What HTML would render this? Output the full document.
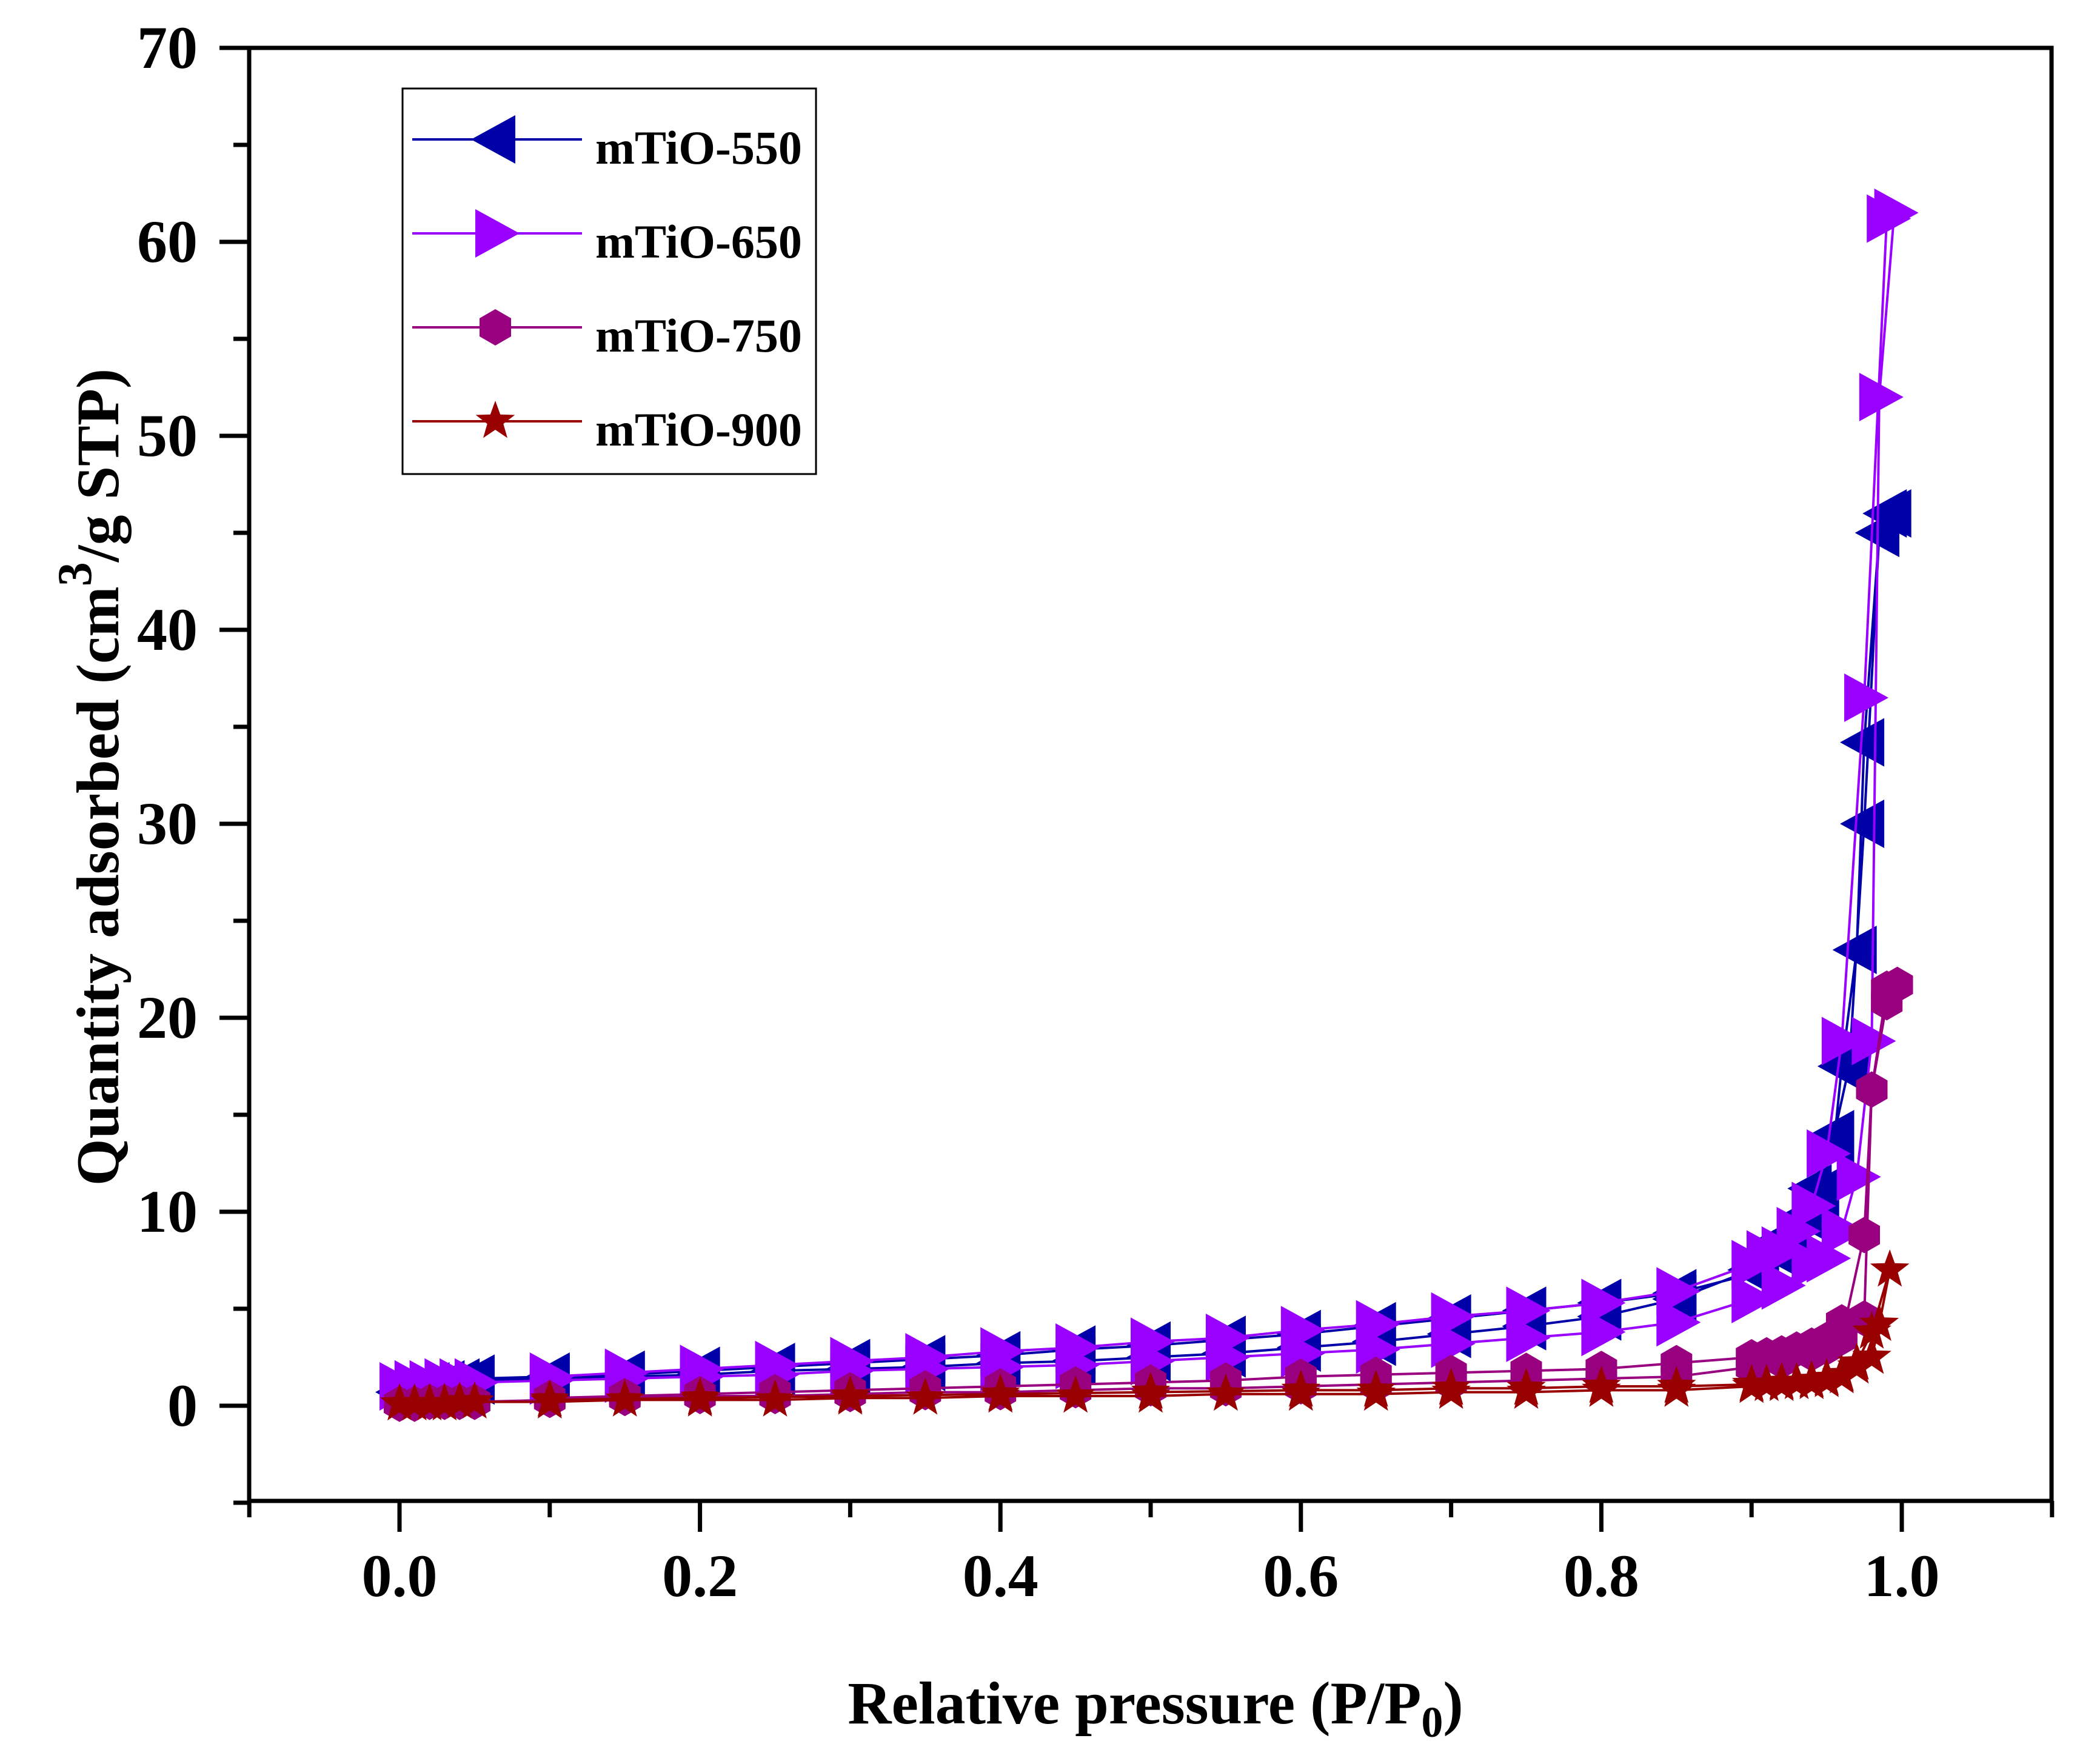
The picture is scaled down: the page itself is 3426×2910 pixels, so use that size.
<!DOCTYPE html>
<html><head><meta charset="utf-8"><style>
html,body{margin:0;padding:0;background:#fff;}
svg{display:block;}
text{font-family:"Liberation Serif",serif;font-weight:bold;fill:#000;}
</style></head><body>
<svg id="chart" width="3426" height="2910" viewBox="0 0 3426 2910" xmlns="http://www.w3.org/2000/svg">
<g id="axes"></g>
<g id="series"></g>
<g id="legend"></g>
<text x="1906" y="2843" font-size="100" text-anchor="middle">Relative pressure (P/P<tspan font-size="72" dy="22">0</tspan><tspan dy="-22">)</tspan></text>
<text transform="translate(195,1282) rotate(-90)" font-size="100" text-anchor="middle">Quantity adsorbed (cm<tspan font-size="80" dy="-45">3</tspan><tspan dy="45">/g STP)</tspan></text>
</svg>
<script>
const xTicks = [-0.1,0,0.1,0.2,0.3,0.4,0.5,0.6,0.7,0.8,0.9,1.0,1.1];
const xTickLabels = ["0.0","0.2","0.4","0.6","0.8","1.0"];
const xLabelVals = [0,0.2,0.4,0.6,0.8,1.0];
const yTicks = [0,10,20,30,40,50,60,70];
const yTickLabels = ["0","10","20","30","40","50","60","70"];

const s550x = [0.0,0.01,0.02,0.03,0.04,0.05,0.1,0.15,0.2,0.25,0.3,0.35,0.4,0.45,0.5,0.55,0.6,0.65,0.7,0.75,0.8,0.85,0.9,0.92,0.94,0.955,0.965,0.975,0.985,0.99,0.993,0.985,0.975,0.97,0.96,0.955,0.945,0.935,0.925,0.915,0.905,0.85,0.8,0.75,0.7,0.65,0.6,0.55,0.5,0.45,0.4,0.35,0.3,0.25,0.2,0.15,0.1,0.05];
const s550y = [0.7,0.9,1.0,1.1,1.2,1.3,1.4,1.5,1.6,1.8,1.9,2.0,2.2,2.3,2.5,2.7,3.0,3.3,3.7,4.1,4.6,5.5,7.0,8.6,11.2,14.0,17.5,30.0,45.0,46.0,46.0,45.0,34.2,23.5,17.5,13.6,11.0,9.8,8.8,8.0,6.9,5.8,5.3,4.9,4.5,4.1,3.7,3.4,3.1,2.9,2.6,2.4,2.2,2.0,1.8,1.6,1.5,1.4];
const s650x = [0.0,0.01,0.02,0.03,0.04,0.05,0.1,0.15,0.2,0.25,0.3,0.35,0.4,0.45,0.5,0.55,0.6,0.65,0.7,0.75,0.8,0.85,0.9,0.92,0.94,0.95,0.96,0.97,0.98,0.985,0.995,0.99,0.975,0.96,0.95,0.94,0.93,0.92,0.91,0.9,0.85,0.8,0.75,0.7,0.65,0.6,0.55,0.5,0.45,0.4,0.35,0.3,0.25,0.2,0.15,0.1];
const s650y = [1.0,1.1,1.1,1.2,1.2,1.2,1.3,1.4,1.5,1.6,1.8,1.9,2.0,2.1,2.3,2.5,2.7,2.9,3.2,3.5,3.8,4.3,5.5,6.2,7.3,7.6,9.0,11.8,18.8,52.0,61.5,61.2,36.5,18.8,13.0,10.3,9.0,8.0,7.8,7.3,5.9,5.3,4.9,4.6,4.2,3.9,3.5,3.3,3.0,2.8,2.5,2.3,2.1,1.9,1.7,1.5];
const s750x = [0.0,0.01,0.02,0.03,0.04,0.05,0.1,0.15,0.2,0.25,0.3,0.35,0.4,0.45,0.5,0.55,0.6,0.65,0.7,0.75,0.8,0.85,0.9,0.92,0.94,0.95,0.96,0.975,0.98,0.99,0.997,0.99,0.98,0.975,0.96,0.95,0.94,0.93,0.92,0.91,0.9,0.85,0.8,0.75,0.7,0.65,0.6,0.55,0.5,0.45,0.4,0.35,0.3,0.25,0.2,0.15,0.1];
const s750y = [0.1,0.1,0.2,0.2,0.2,0.2,0.3,0.4,0.5,0.5,0.6,0.7,0.7,0.8,0.9,0.9,1.0,1.1,1.2,1.3,1.4,1.5,2.0,2.3,2.7,3.0,3.5,8.8,16.3,20.8,21.7,21.5,16.3,4.5,4.3,3.4,3.1,2.9,2.7,2.6,2.5,2.2,1.9,1.8,1.7,1.6,1.5,1.3,1.2,1.1,1.0,0.9,0.8,0.7,0.6,0.5,0.4];
const s900x = [0.0,0.01,0.02,0.03,0.04,0.05,0.1,0.15,0.2,0.25,0.3,0.35,0.4,0.45,0.5,0.55,0.6,0.65,0.7,0.75,0.8,0.85,0.9,0.92,0.94,0.95,0.96,0.97,0.98,0.985,0.992,0.98,0.97,0.96,0.95,0.94,0.93,0.92,0.91,0.9,0.85,0.8,0.75,0.7,0.65,0.6,0.5,0.4,0.3,0.2,0.1];
const s900y = [0.1,0.1,0.1,0.1,0.2,0.2,0.2,0.3,0.3,0.3,0.4,0.4,0.5,0.5,0.5,0.6,0.6,0.6,0.7,0.7,0.8,0.8,1.0,1.1,1.2,1.3,1.5,2.0,2.5,4.2,7.0,3.8,2.2,1.6,1.4,1.3,1.2,1.2,1.1,1.1,1.0,1.0,0.9,0.9,0.8,0.8,0.7,0.6,0.5,0.4,0.3];

const seriesNames = ["mTiO-550","mTiO-650","mTiO-750","mTiO-900"];

const NS = "http://www.w3.org/2000/svg";
const X0=659, XS=2478, Y0=2319, YS=32;
function sx(v){return X0+XS*v;}
function sy(v){return Y0-YS*v;}
function mk(tag,attrs,parent){const e=document.createElementNS(NS,tag);for(const k in attrs)e.setAttribute(k,attrs[k]);parent.appendChild(e);return e;}

const axesG=document.getElementById('axes');
const FL=411,FR=3384,FT=79,FB=2476;
let frame=mk('rect',{x:FL,y:FT,width:FR-FL,height:FB-FT,fill:'none',stroke:'#000','stroke-width':7},axesG);


xTicks.forEach(v=>{
  const major = xLabelVals.some(m=>Math.abs(m-v)<1e-9);
  const t=mk('line',{x1:sx(v),x2:sx(v),y1:FB,y2:FB+(major?51:27),stroke:'#000','stroke-width':7},axesG);
  
  
});
xLabelVals.forEach((v,i)=>{
  const t=mk('text',{x:sx(v),y:2633,'font-size':100,'text-anchor':'middle'},axesG);
  t.textContent=xTickLabels[i];
  
  
});
for(let v=-5;v<=65;v+=10){
  const t=mk('line',{x1:FL-26,x2:FL,y1:sy(v),y2:sy(v),stroke:'#000','stroke-width':7},axesG);
  
  
}
yTicks.forEach((v,i)=>{
  const t=mk('line',{x1:FL-49,x2:FL,y1:sy(v),y2:sy(v),stroke:'#000','stroke-width':7},axesG);
  
  
  const l=mk('text',{x:326,y:sy(v)+33,'font-size':100,'text-anchor':'end'},axesG);
  l.textContent=yTickLabels[i];
  
  
});

function marker(type,cx,cy,color,parent){
  let e;
  if(type==='left'){e=mk('polygon',{points:`${cx-40},${cy} ${cx+33},${cy-40} ${cx+33},${cy+40}`,fill:color},parent);}
  else if(type==='right'){e=mk('polygon',{points:`${cx+40},${cy} ${cx-33},${cy-40} ${cx-33},${cy+40}`,fill:color},parent);}
  else if(type==='hex'){let p=[];for(let k=0;k<6;k++){const a=Math.PI/3*k+Math.PI/6;p.push((cx+30*Math.cos(a)).toFixed(1)+','+(cy+30*Math.sin(a)).toFixed(1));}e=mk('polygon',{points:p.join(' '),fill:color},parent);}
  else {let p=[];for(let k=0;k<10;k++){const a=-Math.PI/2+Math.PI/5*k;const r=k%2?14:34;p.push((cx+r*Math.cos(a)).toFixed(1)+','+(cy+r*Math.sin(a)).toFixed(1));}e=mk('polygon',{points:p.join(' '),fill:color},parent);}
  return e;
}
const sl=document.getElementById('series');
const defs=[[s550x,s550y,'#0000a8','left'],[s650x,s650y,'#9900ff','right'],[s750x,s750y,'#990080','hex'],[s900x,s900y,'#990000','star']];
defs.forEach((d,i)=>{
  const g=mk('g',{},sl);
  
  
  const pts=d[0].map((x,j)=>sx(x).toFixed(1)+','+sy(d[1][j]).toFixed(1)).join(' ');
  const pl=mk('polyline',{points:pts,fill:'none',stroke:d[2],'stroke-width':4},g);
  
  
  d[0].forEach((x,j)=>{
    const m=marker(d[3],sx(x),sy(d[1][j]),d[2],g);
    
    
  });
});
const lg=document.getElementById('legend');
const box=mk('rect',{x:664,y:146,width:682,height:636,fill:'#fff',stroke:'#000','stroke-width':3},lg);


defs.forEach((d,i)=>{
  const y=230+155*i;
  const g=mk('g',{},lg);
  
  
  mk('line',{x1:680,x2:960,y1:y,y2:y,stroke:d[2],'stroke-width':4},g);
  marker(d[3],817,y,d[2],g);
  const t=mk('text',{x:982,y:y+40,'font-size':78},g);
  t.textContent=seriesNames[i];
});
</script>
</body></html>
